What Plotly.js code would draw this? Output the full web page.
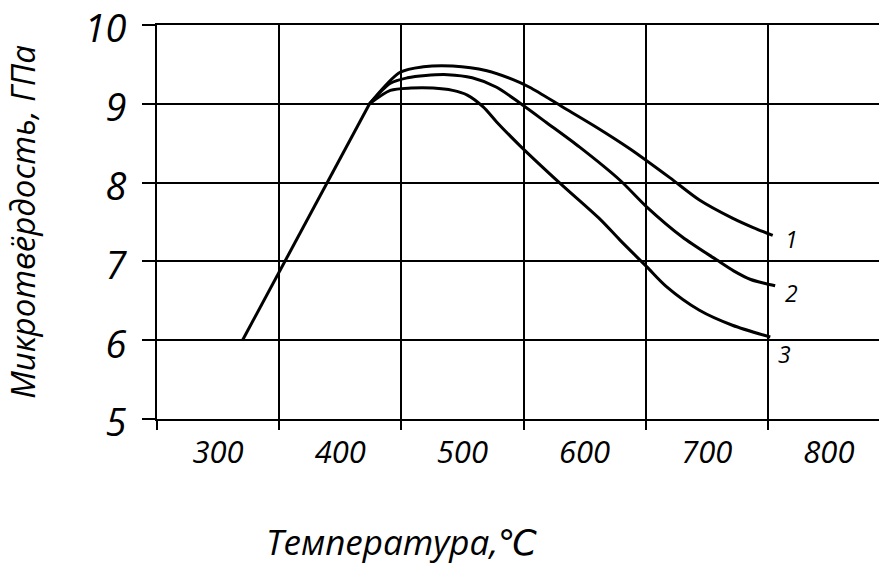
<!DOCTYPE html>
<html>
<head>
<meta charset="utf-8">
<script src="https://cdn.plot.ly/plotly-3.0.1.min.js"></script>
<style>html,body{margin:0;padding:0;background:#fff;}#chart{width:879px;height:565px;}</style>
</head>
<body>
<div id="chart"></div>
<script>
// Temperature tick labels (cell centres) and grid-line positions
const tickValues = [300, 400, 500, 600, 700, 800];
const tickLabels = ['300', '400', '500', '600', '700', '800'];
const gridValues = [250, 350, 450, 550, 650, 750];
const yTicks = [5, 6, 7, 8, 9, 10];
const yTickLabels = ['5', '6', '7', '8', '9', '10'];

// Common rising branch
const riseX = [320, 424];
const riseY = [6.0, 9.0];

// Curve 1
const c1X = [424, 449, 468, 492, 520, 541, 555, 582, 610, 637, 670, 694, 721, 738, 754];
const c1Y = [9.0, 9.40, 9.47, 9.48, 9.42, 9.31, 9.21, 8.96, 8.70, 8.43, 8.06, 7.78, 7.55, 7.43, 7.33];
// Curve 2
const c2X = [424, 441, 455, 470, 488, 508, 528, 547, 569, 596, 629, 651, 680, 708, 722, 736, 748, 756];
const c2Y = [9.0, 9.26, 9.33, 9.36, 9.37, 9.33, 9.21, 9.01, 8.76, 8.45, 8.03, 7.69, 7.31, 7.02, 6.88, 6.77, 6.72, 6.69];
// Curve 3
const c3X = [424, 441, 458, 476, 492, 504, 517, 528, 547, 580, 613, 629, 651, 667, 694, 721, 752];
const c3Y = [9.0, 9.17, 9.20, 9.20, 9.17, 9.11, 8.96, 8.77, 8.47, 7.99, 7.53, 7.27, 6.93, 6.68, 6.38, 6.19, 6.04];

const curveNames = ['1', '2', '3'];

const FONT = '"Open Sans", "DejaVu Sans", sans-serif';
const lineStyle = {color: '#000', width: 3, shape: 'spline', smoothing: 0.8};

const traces = [
  {x: riseX, y: riseY, mode: 'lines', line: {color: '#000', width: 3}, hoverinfo: 'skip', showlegend: false},
  {x: c1X, y: c1Y, mode: 'lines', line: lineStyle, name: curveNames[0], showlegend: false},
  {x: c2X, y: c2Y, mode: 'lines', line: lineStyle, name: curveNames[1], showlegend: false},
  {x: c3X, y: c3Y, mode: 'lines', line: lineStyle, name: curveNames[2], showlegend: false}
];

const ends = [[c1X, c1Y, 10, -4], [c2X, c2Y, 8, -7], [c3X, c3Y, 6, -17]];
const annotations = ends.map((e, i) => ({
  x: e[0][e[0].length - 1], y: e[1][e[1].length - 1], xref: 'x', yref: 'y',
  text: curveNames[i], showarrow: false, xanchor: 'left', yanchor: 'middle',
  xshift: e[2], yshift: e[3],
  font: {family: FONT, size: 23, color: '#000', style: 'italic'}
}));
annotations.push({
  x: 0.338, y: -0.312, xref: 'paper', yref: 'paper', showarrow: false,
  text: 'Температура,℃', xanchor: 'center', yanchor: 'middle',
  font: {family: FONT, size: 35, color: '#000', style: 'italic'}
});

const layout = {
  width: 879, height: 565,
  margin: {l: 157, r: 0, t: 25, b: 146},
  paper_bgcolor: '#fff', plot_bgcolor: '#fff',
  showlegend: false,
  xaxis: {
    range: [250, 841], tickmode: 'array', tickvals: tickValues, ticktext: tickLabels,
    ticks: '', showgrid: false, zeroline: false,
    showline: true, mirror: true, linecolor: '#000', linewidth: 2,
    tickfont: {family: FONT, size: 31, color: '#000', style: 'italic'},
    ticklabelstandoff: 5, ticklabeloverflow: 'allow',
    minor: {tickmode: 'array', tickvals: gridValues, ticks: 'outside', ticklen: 9, tickwidth: 2, tickcolor: '#000',
            showgrid: true, gridcolor: '#000', gridwidth: 2}
  },
  yaxis: {
    range: [5, 10], tickmode: 'array', tickvals: yTicks, ticktext: yTickLabels,
    ticks: 'outside', ticklen: 13, tickwidth: 2, tickcolor: '#000',
    showgrid: true, gridcolor: '#000', gridwidth: 2, zeroline: false,
    showline: true, linecolor: '#000', linewidth: 2,
    tickfont: {family: FONT, size: 38, color: '#000', style: 'italic'},
    ticklabelstandoff: 8, ticklabelshift: 4, ticklabeloverflow: 'allow',
    title: {text: 'Микротвёрдость, ГПа', standoff: 53,
            font: {family: FONT, size: 33, color: '#000', style: 'italic'}}
  },
  annotations: annotations
};

Plotly.newPlot('chart', traces, layout, {displayModeBar: false, staticPlot: true});
</script>
</body>
</html>
